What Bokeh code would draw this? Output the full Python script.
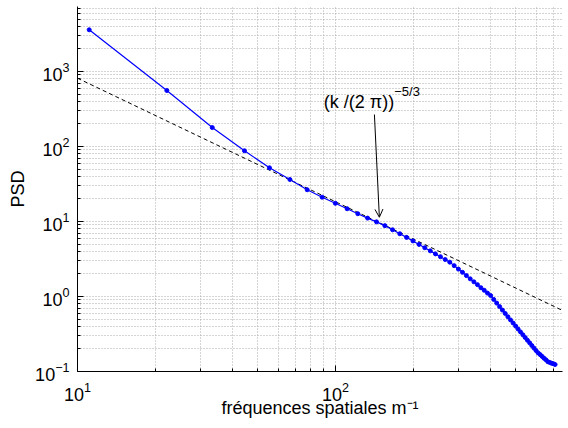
from bokeh.plotting import figure
from bokeh.models import Range1d, FixedTicker, Label, Arrow, OpenHead, ColumnDataSource
from bokeh.embed import file_html
from bokeh.resources import INLINE

# spatial frequencies (m^-1)
k = [11.1, 22.2, 33.3, 44.4, 55.5, 66.6, 77.7, 88.8, 99.9, 111.0,
     122.1, 133.2, 144.3, 155.4, 166.5, 177.6, 188.7, 199.8, 210.9, 222.0,
     233.1, 244.2, 255.3, 266.4, 277.5, 288.6, 299.7, 310.8, 321.9, 333.0,
     344.1, 355.2, 366.3, 377.4, 388.5, 399.6, 410.7, 421.8, 432.9, 444.0,
     455.1, 466.2, 477.3, 488.4, 499.5, 510.6, 521.7, 532.8, 543.9, 555.0,
     566.1, 577.2, 588.3, 599.4, 610.5, 621.6, 632.7, 643.8, 654.9, 666.0,
     677.1, 688.2, 699.3, 710.4]
# PSD values
psd = [3600, 558, 179, 87.7, 52.0, 36.3, 26.5, 21.1, 17.5, 14.8,
       12.7, 11.1, 9.89, 8.81, 7.75, 6.87, 6.14, 5.51, 4.95, 4.47,
       4.06, 3.70, 3.39, 3.11, 2.87, 2.58, 2.32, 2.10, 1.90, 1.72,
       1.57, 1.44, 1.31, 1.21, 1.11, 1.03, 0.914, 0.817, 0.733, 0.659,
       0.595, 0.537, 0.487, 0.443, 0.403, 0.368, 0.337, 0.309, 0.284, 0.261,
       0.241, 0.222, 0.205, 0.190, 0.177, 0.168, 0.159, 0.150, 0.143, 0.135,
       0.132, 0.129, 0.127, 0.124]

# reference slope line (k/(2 pi))^(-5/3), end points
ref_k = [10, 760]
ref_psd = [815, 0.65]

# ticks
x_major = [10, 100]
x_minor = [20, 30, 40, 50, 60, 70, 80, 90, 200, 300, 400, 500, 600, 700]
y_major = [0.1, 1, 10, 100, 1000]
y_minor = [0.2, 0.3, 0.4, 0.5, 0.6, 0.7, 0.8, 0.9,
           2, 3, 4, 5, 6, 7, 8, 9,
           20, 30, 40, 50, 60, 70, 80, 90,
           200, 300, 400, 500, 600, 700, 800, 900,
           2000, 3000, 4000, 5000, 6000, 7000]

# annotation
annot_text = "(k /(2 π))"
annot_sup = "−5/3"
annot_anchor = (169, 395)
arrow_start = (141.6, 267)
arrow_end = (148, 11.4)

x_label = "fréquences spatiales m⁻¹"
y_label = "PSD"

FONT = "Liberation Sans"

p = figure(width=568, height=428, x_axis_type="log", y_axis_type="log",
           x_range=Range1d(10, 759), y_range=Range1d(0.1, 7362),
           output_backend="svg", toolbar_location=None,
           min_border_left=77, min_border_right=6, min_border_top=6, min_border_bottom=57)
p.outline_line_color = None
p.background_fill_color = "white"
p.border_fill_color = "white"

p.xaxis.ticker = FixedTicker(ticks=x_major, minor_ticks=x_minor)
p.yaxis.ticker = FixedTicker(ticks=y_major, minor_ticks=y_minor)

for ax in (p.xaxis, p.yaxis):
    ax.major_tick_in = 6
    ax.major_tick_out = 0
    ax.minor_tick_in = 3
    ax.minor_tick_out = 0
    ax.axis_line_color = "black"
    ax.major_tick_line_color = "black"
    ax.minor_tick_line_color = "black"
    ax.major_label_text_font = FONT
    ax.major_label_text_font_size = "18px"
    ax.major_label_text_color = "black"
    ax.axis_label_text_font = FONT
    ax.axis_label_text_font_size = "18px"
    ax.axis_label_text_font_style = "normal"
    ax.axis_label_text_color = "black"

p.xaxis.major_label_standoff = 10
p.xaxis.axis_label = x_label
p.xaxis.axis_label_standoff = -6
p.yaxis.major_label_standoff = 8
p.yaxis.axis_label = y_label
p.yaxis.axis_label_standoff = 4

for g in (p.xgrid, p.ygrid):
    g.grid_line_color = "#aaaaaa"
    g.grid_line_dash = "1 2"
    g.minor_grid_line_color = "#aaaaaa"
    g.minor_grid_line_dash = "1 2"

src = ColumnDataSource(dict(k=k, psd=psd))
p.line(ref_k, ref_psd, line_color="black", line_dash="4 3", line_width=1)
p.line("k", "psd", source=src, line_color="#0000ff", line_width=1.2)
p.scatter("k", "psd", source=src, size=4, fill_color="#0000ff", line_color="#0000ff")

p.add_layout(Arrow(end=OpenHead(size=8, line_width=1, line_color="black"),
                   x_start=arrow_start[0], y_start=arrow_start[1],
                   x_end=arrow_end[0], y_end=arrow_end[1],
                   line_color="black", line_width=1))
p.add_layout(Label(x=annot_anchor[0], y=annot_anchor[1], text=annot_text,
                   text_align="right", text_baseline="alphabetic",
                   text_font=FONT, text_font_size="18px", text_color="black"))
p.add_layout(Label(x=annot_anchor[0], y=annot_anchor[1], y_offset=10, text=annot_sup,
                   text_align="left", text_baseline="alphabetic",
                   text_font=FONT, text_font_size="13px", text_color="black"))

open("out.html", "w").write(file_html(p, INLINE))
